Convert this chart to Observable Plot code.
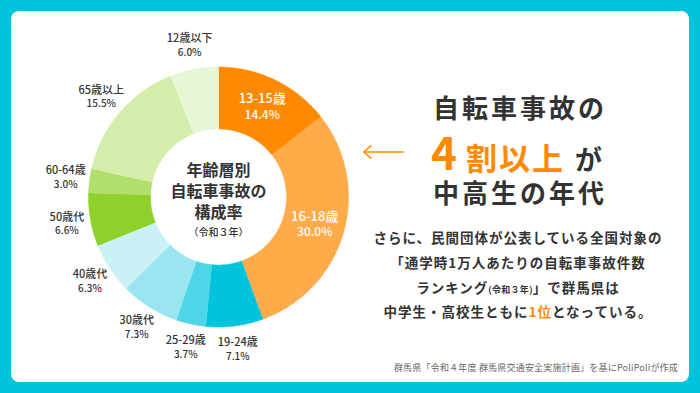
<!DOCTYPE html>
<html><head><meta charset="utf-8">
<script src="https://cdn.jsdelivr.net/npm/d3@7"></script>
<script src="https://cdn.jsdelivr.net/npm/@observablehq/plot@0.6"></script>
<style>
body{margin:0;}
#page{position:relative;width:700px;height:393px;background:#00c4dc;overflow:hidden;font-family:"Noto Sans CJK JP","Noto Sans",sans-serif;}
#card{position:absolute;left:11px;top:11px;width:678px;height:371px;background:#fff;border-radius:8px;}
#chart{position:absolute;left:0;top:0;}
#overlay{position:absolute;left:0;top:0;}
g[aria-label="center"] text{letter-spacing:2px;}
g[aria-label="outer-name"] text, g[aria-label="inner-name"] text{letter-spacing:0.5px;}
</style>
</head><body>
<div id="page"><div id="card"></div><div id="chart"></div>
<svg id="overlay" width="700" height="393" font-family="'Noto Sans CJK JP', sans-serif">
  <g stroke="#ff8a00" stroke-width="1.6" fill="none" stroke-linecap="round" stroke-linejoin="round">
    <line x1="364" y1="152" x2="403" y2="152"></line>
    <polyline points="371,145.5 364,152 371,158.5"></polyline>
  </g>
  <text x="433" y="118" font-size="26" font-weight="700" fill="#333" letter-spacing="3">自転車事故の</text>
  <text x="431" y="170" font-weight="700" fill="#ff8a00"><tspan font-size="44">4</tspan><tspan font-size="31" dx="9" letter-spacing="2">割以上</tspan><tspan font-size="27" fill="#333" dx="10">が</tspan></text>
  <text x="433" y="203" font-size="26" font-weight="700" fill="#333" letter-spacing="3">中高生の年代</text>
  <g font-size="13.5" font-weight="700" fill="#333" text-anchor="middle" letter-spacing="1">
    <text x="518" y="243">さらに、民間団体が公表している全国対象の</text>
    <text x="518" y="268">「通学時1万人あたりの自転車事故件数</text>
    <text x="518" y="293">ランキング<tspan font-size="9" letter-spacing="0.3">(令和３年)</tspan>」で群馬県は</text>
    <text x="518" y="317">中学生・高校生ともに<tspan fill="#ff8a00">1位</tspan>となっている。</text>
  </g>
  <text x="678" y="371" font-size="9" fill="#666" text-anchor="end" letter-spacing="0.2">群馬県「令和４年度 群馬県交通安全実施計画」を基にPoliPoliが作成</text>
</svg>
</div>
<script>
const categories = ["13-15歳","16-18歳","19-24歳","25-29歳","30歳代","40歳代","50歳代","60-64歳","65歳以上","12歳以下"];
const values = [14.4, 30.0, 7.1, 3.7, 7.3, 6.3, 6.6, 3.0, 15.5, 6.0];
const colors = ["#ff8a00","#ffab4a","#00c4dc","#4fd5e8","#99e6f0","#c9f1f6","#8fd02a","#b0df6b","#d3edaa","#e8f6d6"];
const insideLabel = [true, true, false, false, false, false, false, false, false, false];
const centerLines = ["年齢層別","自転車事故の","構成率"];
const centerNote = "（令和３年）";

const R_IN = 68/130, R_OUT = 1, R_LAB_OUT = 1.185, R_LAB_IN = 0.77;
const data = categories.map((name, i) => ({name, value: values[i], inside: insideLabel[i]}));
const arcs = d3.pie().sort(null).value(d => d.value)(data);

const poly = [];
const labels = [];
arcs.forEach(a => {
  const n = Math.max(4, Math.ceil((a.endAngle - a.startAngle) / 0.01));
  for (let k = 0; k <= n; k++) {
    const t = a.startAngle + (a.endAngle - a.startAngle) * k / n;
    poly.push({name: a.data.name, x: R_OUT * Math.sin(t), y: R_OUT * Math.cos(t)});
  }
  for (let k = n; k >= 0; k--) {
    const t = a.startAngle + (a.endAngle - a.startAngle) * k / n;
    poly.push({name: a.data.name, x: R_IN * Math.sin(t), y: R_IN * Math.cos(t)});
  }
  const m = (a.startAngle + a.endAngle) / 2;
  const r = a.data.inside ? R_LAB_IN : R_LAB_OUT;
  labels.push({name: a.data.name, pct: a.data.value.toFixed(1) + "%", inside: a.data.inside,
               x: r * Math.sin(m), y: r * Math.cos(m)});
});

const outer = labels.filter(d => !d.inside);
const inner = labels.filter(d => d.inside);
const center = [{x: 0, y: 0}];

const W = 440, H = 393, CX = 218, CY = 196.5, U = 130;
const chart = Plot.plot({
  width: W, height: H, margin: 0,
  x: {domain: [-CX / U, (W - CX) / U], axis: null},
  y: {domain: [-(H - CY) / U, CY / U], axis: null},
  color: {domain: categories, range: colors},
  style: {background: "transparent", fontFamily: "'Noto Sans CJK JP', sans-serif", overflow: "visible"},
  marks: [
    Plot.line(poly, {x: "x", y: "y", z: "name", fill: "name", stroke: "name", strokeWidth: 0.5, curve: "linear"}),
    Plot.text(outer, {x: "x", y: "y", text: "name", dy: -7, fontSize: 11, fontWeight: 500, fill: "#333", ariaLabel: "outer-name"}),
    Plot.text(outer, {x: "x", y: "y", text: "pct", dy: 7, fontSize: 10, fontWeight: 500, fill: "#333"}),
    Plot.text(inner, {x: "x", y: "y", text: "name", dy: -8, fontSize: 13, fontWeight: 500, fill: "white", ariaLabel: "inner-name"}),
    Plot.text(inner, {x: "x", y: "y", text: "pct", dy: 8, fontSize: 12, fontWeight: 500, fill: "white"}),
    Plot.text(center, {x: "x", y: "y", text: () => centerLines[0], dy: -26.5, fontSize: 16, fontWeight: 700, fill: "#333", ariaLabel: "center"}),
    Plot.text(center, {x: "x", y: "y", text: () => centerLines[1], dy: -5, fontSize: 16, fontWeight: 700, fill: "#333", ariaLabel: "center"}),
    Plot.text(center, {x: "x", y: "y", text: () => centerLines[2], dy: 15.5, fontSize: 16, fontWeight: 700, fill: "#333", ariaLabel: "center"}),
    Plot.text(center, {x: "x", y: "y", text: () => centerNote, dy: 35.5, fontSize: 10, fontWeight: 500, fill: "#333"})
  ]
});
document.getElementById("chart").appendChild(chart);
</script>
</body></html>
